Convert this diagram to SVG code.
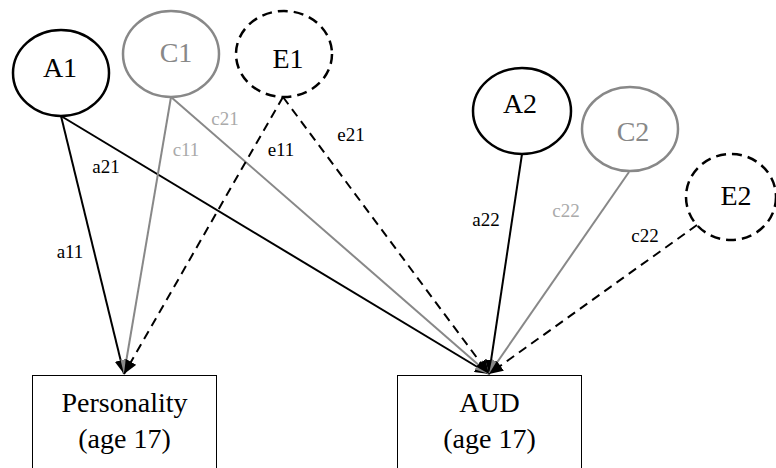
<svg xmlns="http://www.w3.org/2000/svg" width="776" height="468" viewBox="0 0 776 468">
<style>
.node{fill:none;stroke-width:2.5}
.blk{stroke:#000}
.gry{stroke:#888}
.dsh{stroke:#000;stroke-dasharray:10 6}
.box{fill:#fff;stroke:#000;stroke-width:1}
.ln{fill:none;stroke-width:2}
.lb{stroke:#000}
.lg{stroke:#888}
.ld{stroke:#000;stroke-dasharray:9 6}
</style>
<defs>
<marker id="ab" viewBox="0 0 14 12" refX="14" refY="6" markerWidth="14" markerHeight="12" markerUnits="userSpaceOnUse" orient="auto">
<path d="M0,0 L14,6 L0,12 Z" fill="#000"/>
</marker>
<marker id="ag" viewBox="0 0 14 12" refX="14" refY="6" markerWidth="14" markerHeight="12" markerUnits="userSpaceOnUse" orient="auto">
<path d="M0,0 L14,6 L0,12 Z" fill="#888"/>
</marker>
</defs>
<g id="connectors">
<line class="ln lb" x1="61" y1="116" x2="124" y2="374" marker-end="url(#ab)"/>
<line class="ln lb" x1="61" y1="116" x2="489" y2="374" marker-end="url(#ab)"/>
<line class="ln lb" x1="522" y1="154" x2="489" y2="374" marker-end="url(#ab)"/>
<line class="ln lg" x1="171" y1="97" x2="124" y2="374" marker-end="url(#ag)"/>
<line class="ln lg" x1="171" y1="97" x2="489" y2="374" marker-end="url(#ag)"/>
<line class="ln lg" x1="629" y1="172" x2="489" y2="374" marker-end="url(#ag)"/>
<line class="ln ld" x1="283" y1="97" x2="124" y2="374" marker-end="url(#ab)"/>
<line class="ln ld" x1="283" y1="97" x2="489" y2="374" marker-end="url(#ab)"/>
<line class="ln ld" x1="697" y1="225" x2="489" y2="374" marker-end="url(#ab)"/>
<text x="70" y="258" font-family="Liberation Serif" font-size="19" text-anchor="middle">a11</text>
<text x="106" y="173" font-family="Liberation Serif" font-size="19" text-anchor="middle">a21</text>
<text x="186" y="156" font-family="Liberation Serif" font-size="19" text-anchor="middle" fill="#aaa">c11</text>
<text x="225" y="125" font-family="Liberation Serif" font-size="19" text-anchor="middle" fill="#aaa">c21</text>
<text x="281" y="156" font-family="Liberation Serif" font-size="19" text-anchor="middle">e11</text>
<text x="351" y="141" font-family="Liberation Serif" font-size="19" text-anchor="middle">e21</text>
<text x="486" y="226" font-family="Liberation Serif" font-size="19" text-anchor="middle">a22</text>
<text x="566" y="217" font-family="Liberation Serif" font-size="19" text-anchor="middle" fill="#aaa">c22</text>
<text x="645" y="242" font-family="Liberation Serif" font-size="19" text-anchor="middle">c22</text>
</g>
<g id="A1">
<ellipse class="node blk" cx="61" cy="73" rx="48" ry="43"/>
<text x="60" y="77" font-family="Liberation Serif" font-size="28" text-anchor="middle">A1</text>
</g>
<g id="C1">
<ellipse class="node gry" cx="171" cy="54" rx="48" ry="43"/>
<text x="176" y="62" font-family="Liberation Serif" font-size="28" text-anchor="middle" fill="#888">C1</text>
</g>
<g id="E1">
<ellipse class="node dsh" cx="284" cy="54" rx="48" ry="43"/>
<text x="288" y="68" font-family="Liberation Serif" font-size="28" text-anchor="middle">E1</text>
</g>
<g id="A2">
<ellipse class="node blk" cx="522" cy="111" rx="49" ry="43"/>
<text x="520" y="113" font-family="Liberation Serif" font-size="28" text-anchor="middle">A2</text>
</g>
<g id="C2">
<ellipse class="node gry" cx="630" cy="129" rx="48" ry="42"/>
<text x="633" y="141" font-family="Liberation Serif" font-size="28" text-anchor="middle" fill="#888">C2</text>
</g>
<g id="E2">
<ellipse class="node dsh" cx="731" cy="197" rx="45" ry="43"/>
<text x="736" y="205" font-family="Liberation Serif" font-size="28" text-anchor="middle">E2</text>
</g>
<g id="Personality">
<rect class="box" x="32.5" y="375.5" width="184" height="110"/>
<text x="124.5" y="412" font-family="Liberation Serif" font-size="28" text-anchor="middle">Personality</text>
<text x="124.5" y="448" font-family="Liberation Serif" font-size="28" text-anchor="middle">(age 17)</text>
</g>
<g id="AUD">
<rect class="box" x="397.5" y="375.5" width="184" height="110"/>
<text x="489.5" y="412" font-family="Liberation Serif" font-size="28" text-anchor="middle">AUD</text>
<text x="489.5" y="448" font-family="Liberation Serif" font-size="28" text-anchor="middle">(age 17)</text>
</g>
</svg>
